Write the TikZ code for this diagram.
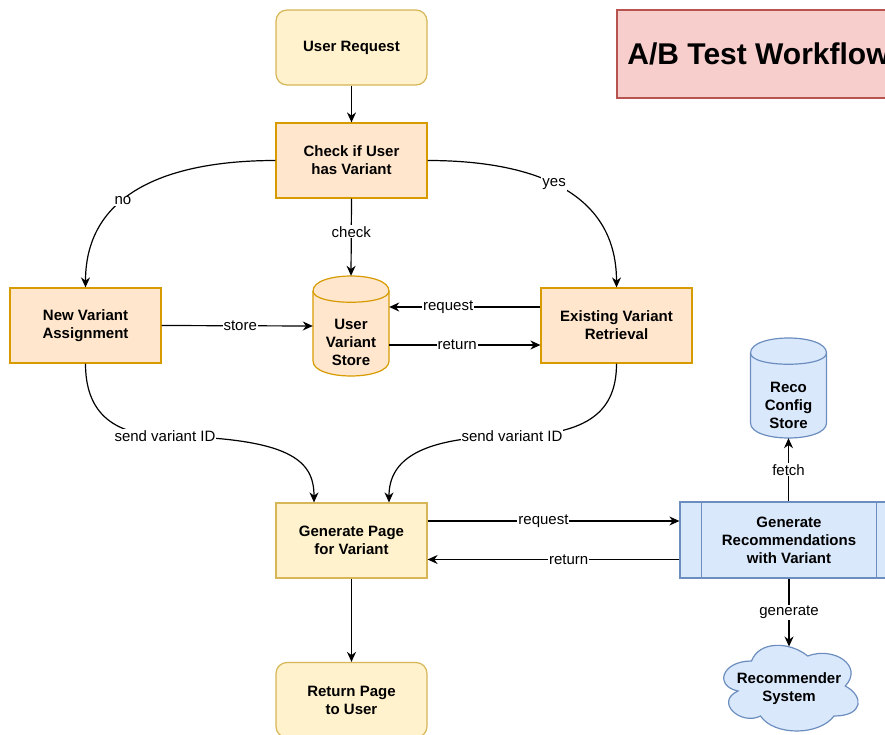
\documentclass[tikz,border=0pt]{standalone}
\usepackage{fontspec}
\setmainfont{Liberation Sans}
\usetikzlibrary{arrows.meta,calc}
\definecolor{yfill}{HTML}{FFF2CC}
\definecolor{ydraw}{HTML}{D6B656}
\definecolor{ofill}{HTML}{FFE6CC}
\definecolor{odraw}{HTML}{D79B00}
\definecolor{bfill}{HTML}{DAE8FC}
\definecolor{bdraw}{HTML}{6C8EBF}
\definecolor{rfill}{HTML}{F8CECC}
\definecolor{rdraw}{HTML}{B85450}
\tikzset{
  box/.style={rectangle, line width=1.2pt, minimum width=151pt, minimum height=75pt, align=center, inner sep=2pt,
    font=\bfseries\fontsize{15}{18}\selectfont},
  ybox/.style={box, fill=yfill, draw=ydraw},
  yround/.style={ybox, rounded corners=11pt},
  obox/.style={box, fill=ofill, draw=odraw},
  bbox/.style={box, fill=bfill, draw=bdraw},
  txt/.style={align=center, inner sep=0pt, font=\bfseries\fontsize{15}{18}\selectfont},
  geo/.style={rectangle, inner sep=0pt},
  arr/.style={line width=1.2pt, -{Stealth[length=10pt,width=9pt,inset=3.2pt]}},
  lbl/.style={fill=white, inner sep=1pt, font=\fontsize{15}{18}\selectfont},
  ocyl/.style={fill=ofill, draw=odraw, line width=1.2pt},
  bcyl/.style={fill=bfill, draw=bdraw, line width=1.2pt}
}
\begin{document}
\begin{tikzpicture}[x=1pt,y=-1pt]
\useasboundingbox (0,0) rectangle (885,735);
\clip (0,0) rectangle (885,735);

% title
\node[rectangle, fill=rfill, draw=rdraw, line width=1.2pt, minimum width=283pt, minimum height=88pt,
  font=\bfseries\fontsize{30}{36}\selectfont] (title) at (758.5,54) {A/B Test Workflow};

% nodes
\node[yround] (req) at (351.5,47.5) {\raisebox{-1.5pt}{User Request}};
\node[obox] (check) at (351.5,160.5) {Check if User\\has Variant};
\node[obox] (newvar) at (85.5,325.5) {New Variant\\Assignment};
\node[obox] (exist) at (616.5,325.5) {Existing Variant\\Retrieval};
\node[ybox] (genpage) at (351.5,540.5) {Generate Page\\for Variant};
\node[yround] (retpage) at (351.5,700) {Return Page\\to User};

% user variant store cylinder (x 313..389, y 276..376, dy 15)
\filldraw[ocyl] (313,291) .. controls (313,271) and (389,271) .. (389,291) -- (389,361)
  .. controls (389,381) and (313,381) .. (313,361) -- cycle;
\draw[ocyl, fill=none] (313,291) .. controls (313,306) and (389,306) .. (389,291);
\node[geo, minimum width=76pt, minimum height=100pt] (store) at (351,326) {};
\node[txt] (storetxt) at (351,342) {User\\Variant\\Store};

% reco config store cylinder (x 750.5..826.5, y 338..438)
\filldraw[bcyl] (750.5,353) .. controls (750.5,333) and (826.5,333) .. (826.5,353) -- (826.5,423)
  .. controls (826.5,443) and (750.5,443) .. (750.5,423) -- cycle;
\draw[bcyl, fill=none] (750.5,353) .. controls (750.5,368) and (826.5,368) .. (826.5,353);
\node[geo, minimum width=76pt, minimum height=100pt] (reco) at (788.5,388) {};
\node[txt] (recotxt) at (788.5,405) {Reco\\Config\\Store};

% generate recommendations (process)
\node[bbox, minimum width=218pt, minimum height=76pt] (recs) at (789,540) {Generate\\Recommendations\\with Variant};
\draw[draw=bdraw, line width=1.2pt] ([xshift=22pt]recs.north west) -- ([xshift=22pt]recs.south west);
\draw[draw=bdraw, line width=1.2pt] ([xshift=-22pt]recs.north east) -- ([xshift=-22pt]recs.south east);

% cloud (geometry x 714..864, y 636..736)
\filldraw[fill=bfill, draw=bdraw, line width=1.2pt]
  (751.5,661) .. controls (721.5,661) and (714,686) .. (738,691)
  .. controls (714,702) and (741,726) .. (760.5,716)
  .. controls (774,736) and (819,736) .. (834,716)
  .. controls (864,716) and (864,696) .. (845.25,686)
  .. controls (864,666) and (834,646) .. (807.75,656)
  .. controls (789,641) and (759,641) .. (751.5,661) -- cycle;
\node[geo, minimum width=150pt, minimum height=100pt] (cloud) at (789,686) {};
\node[txt] (cloudtxt) at (789,689) {Recommender\\System};
\coordinate (cloudtop) at (789,646.5);

% connectors
\draw[arr] (req.south) -- (check.north);
\draw[arr] (check.south) -- node[lbl, pos=0.43] {check} (store.north);
\draw[arr] (check.west) .. controls (173,160.5) and (85.5,190) .. node[lbl, pos=0.6] {no} (newvar.north);
\draw[arr] (check.east) .. controls (530,160.5) and (616.5,190) .. node[lbl, pos=0.47] {yes} (exist.north);
\draw[arr] (newvar.east) -- node[lbl, pos=0.52] {store} (store.west);
\draw[arr] ([yshift=18.5pt]exist.west) coordinate (rq) -- node[lbl, pos=0.61] {request} (rq -| store.east);
\draw[arr] ([yshift=-19pt]store.east) coordinate (rt) -- node[lbl, pos=0.45] {return} (rt -| exist.west);
\draw[arr] (newvar.south) .. controls (85.5,410) and (110,435) .. (165,436)
  node[lbl] {send variant ID}
  .. controls (290,438) and (314,460) .. ([xshift=-37.5pt]genpage.north);
\draw[arr] (exist.south) .. controls (616.5,410) and (590,435) .. (512,436)
  node[lbl] {send variant ID}
  .. controls (420,437) and (389,460) .. ([xshift=37.5pt]genpage.north);
\draw[arr] ([yshift=19.5pt]genpage.east) coordinate (gq) -- node[lbl, pos=0.46] {request} (gq -| recs.west);
\draw[arr] ([yshift=-19.5pt]recs.west) coordinate (gr) -- node[lbl, pos=0.44] {return} (gr -| genpage.east);
\draw[arr] (genpage.south) -- (retpage.north);
\draw[arr] (reco.south |- recs.north) -- node[lbl] {fetch} (reco.south);
\draw[arr] (recs.south -| cloudtop) -- node[lbl] {generate} (cloudtop);
\end{tikzpicture}
\end{document}
